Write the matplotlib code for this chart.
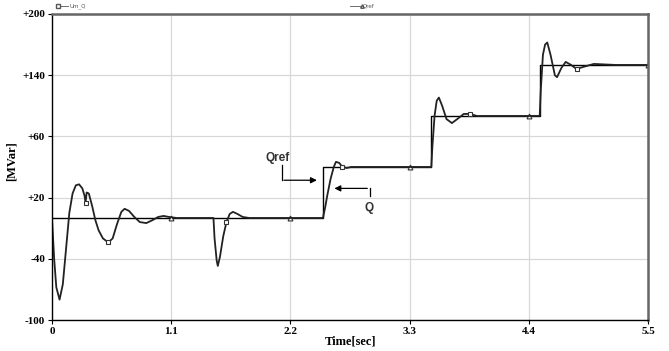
import matplotlib
matplotlib.use("Agg")
import matplotlib.pyplot as plt
from matplotlib.lines import Line2D

t_q = [0.00, 0.02, 0.04, 0.07, 0.10, 0.13, 0.16, 0.19, 0.22, 0.25, 0.28, 0.30,
       0.31, 0.32, 0.34, 0.37, 0.40, 0.43, 0.47, 0.52, 0.56, 0.60, 0.64, 0.67,
       0.71, 0.76, 0.81, 0.87, 0.93, 0.98, 1.03, 1.08, 1.15, 1.30, 1.49, 1.50,
       1.52, 1.53, 1.55, 1.58, 1.61, 1.64, 1.67, 1.71, 1.76, 1.82, 2.20, 2.50,
       2.52, 2.54, 2.57, 2.60, 2.62, 2.65, 2.68, 2.72, 2.76, 3.20, 3.50, 3.51,
       3.53, 3.55, 3.57, 3.60, 3.64, 3.69, 3.74, 3.80, 3.86, 3.92, 4.20, 4.50,
       4.51, 4.53, 4.55, 4.57, 4.60, 4.64, 4.66, 4.70, 4.74, 4.79, 4.84, 4.90,
       5.00, 5.20, 5.50]
q = [0, -40, -68, -80, -65, -30, 5, 24, 32, 33, 29, 22,
     15, 25, 24, 12, -2, -12, -20, -24, -20, -6, 6, 9,
     7, 1, -4, -5, -2, 1, 2, 1, 0, 0, 0, -20,
     -42, -47, -38, -18, -4, 4, 6, 4, 1, 0, 0, 0,
     10, 22, 38, 50, 55, 54, 50, 49, 50, 50, 50, 70,
     100, 115, 118, 110, 97, 93, 97, 102, 102, 100, 100, 100,
     125, 160, 170, 172, 160, 140, 138, 147, 153, 150, 146, 148,
     151, 150, 150]

# reference Qref (steps)
t_ref = [0.0, 2.5, 3.5, 4.5, 5.5]
q_ref = [0, 50, 100, 150, 150]

q_marks = [0.31, 0.52, 1.61, 2.68, 3.86, 4.84]
ref_marks = [1.1, 2.2, 3.3, 4.4, 5.5]

y_ticks = [-100, -40, 20, 80, 140, 200]
y_labels = ["-100", "-40", "+20", "+60", "+140", "+200"]
x_ticks = [0, 1.1, 2.2, 3.3, 4.4, 5.5]
x_labels = ["0", "1.1", "2.2", "3.3", "4.4", "5.5"]

fig = plt.figure(figsize=(6.69, 3.51), dpi=100)
ax = fig.add_axes([0.0777, 0.0883, 0.891, 0.872])

serif = dict(family="Liberation Serif", weight="bold")

# Qref step line
ax.plot(t_ref, q_ref, drawstyle="steps-post", color="black", lw=1.0)
rt = [t for t in ref_marks]
rv = [q_ref[max(i for i, tt in enumerate(t_ref) if tt <= t)] for t in rt]
ax.plot(rt, rv, ls="none", marker="^", ms=3.5, mfc="white", mec="#333333", mew=0.8)

# Q response
ax.plot(t_q, q, color="#222222", lw=1.3, marker="s", ms=3, mfc="white",
        mec="#333333", mew=0.8, markevery=[t_q.index(t) for t in q_marks])

ax.set_xlim(0, 5.5)
ax.set_ylim(-100, 200)
ax.set_xticks(x_ticks)
ax.set_xticklabels(x_labels, fontsize=8, **serif)
ax.set_yticks(y_ticks)
ax.set_yticklabels(y_labels, fontsize=8, **serif)
ax.tick_params(length=3, width=0.8, pad=2)
ax.grid(True, color="#d8d8d8", lw=0.9)
ax.set_axisbelow(True)

for side in ["left", "bottom"]:
    ax.spines[side].set_color("black")
    ax.spines[side].set_linewidth(1.0)
for side in ["top", "right"]:
    ax.spines[side].set_color("#666666")
    ax.spines[side].set_linewidth(1.8)

ax.set_xlabel("Time[sec]", fontsize=9, labelpad=0, **serif)
ax.set_ylabel("[MVar]", fontsize=9, **serif)
ax.yaxis.set_label_coords(-0.058, 0.52)

# annotations
ax.text(2.08, 59, "Qref", fontsize=8.5, weight="bold", family="Liberation Sans",
        ha="center", va="center", color="#333333")
ax.plot([2.12, 2.12], [52, 37], color="black", lw=0.9)
ax.annotate("", xy=(2.47, 37), xytext=(2.115, 37),
            arrowprops=dict(arrowstyle="-|>", color="black", lw=0.9, mutation_scale=9))
ax.text(2.93, 10, "Q", fontsize=8.5, weight="bold", family="Liberation Sans",
        ha="center", va="center", color="#333333")
ax.plot([2.93, 2.93], [22, 29], color="black", lw=0.9)
ax.annotate("", xy=(2.58, 29), xytext=(2.935, 29),
            arrowprops=dict(arrowstyle="-|>", color="black", lw=0.9, mutation_scale=9))

# small legend entries above the frame
fig.add_artist(Line2D([58 / 669, 68 / 669], [1 - 6 / 351] * 2, color="#555555", lw=0.6,
                      marker="s", ms=2.5, mfc="white", markevery=[0]))
fig.text(69 / 669, 1 - 6 / 351, "Um_Q", fontsize=4, color="#555555", va="center")
fig.add_artist(Line2D([350 / 669, 362 / 669], [1 - 6 / 351] * 2, color="#555555", lw=0.6,
                      marker="^", ms=2.5, mfc="white", markevery=[1]))
fig.text(363 / 669, 1 - 6 / 351, "Qref", fontsize=4, color="#555555", va="center")

fig.savefig("out.png", dpi=100)
